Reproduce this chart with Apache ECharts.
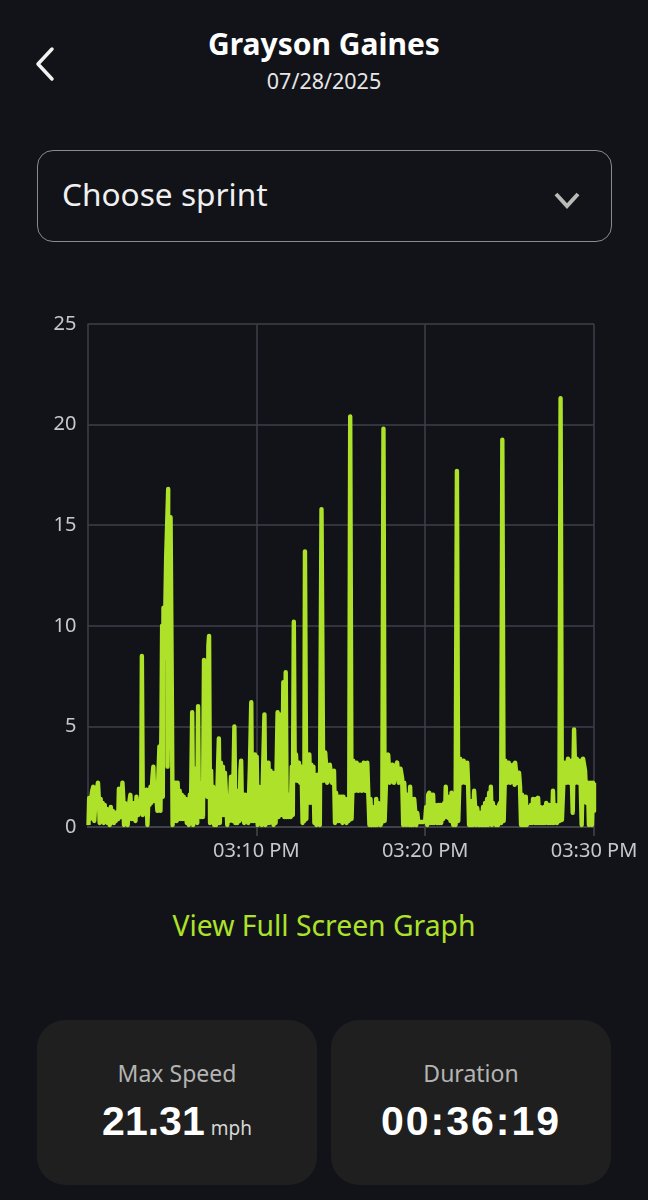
<!DOCTYPE html>
<html>
<head>
<meta charset="utf-8">
<title>Grayson Gaines</title>
<script src="https://cdn.jsdelivr.net/npm/echarts@6/dist/echarts.min.js"></script>
<style>
    html, body { margin: 0; padding: 0; background: #111318; }
    #page { position: relative; width: 648px; height: 1200px; overflow: hidden; font-family: "Noto Sans", sans-serif; color: #fff; }
    .abs { position: absolute; white-space: nowrap; }
    .center { left: 0; width: 648px; text-align: center; }
    #name { top: 24px; font-size: 30px; line-height: 40px; font-weight: 700; }
    #date { top: 66px; font-size: 21.5px; line-height: 30px; color: #e6e6e6; }
    #select { left: 37px; top: 150px; width: 573px; height: 90px; border: 1.5px solid #8a8b8d; border-radius: 16px; }
    #selectText { left: 62px; top: 172px; font-size: 31.6px; line-height: 44px; color: #f0f0f0; }
    #chart { position: absolute; left: 0; top: 300px; width: 648px; height: 580px; }
    #link { top: 906px; font-size: 28.3px; line-height: 38px; color: #aee22a; }
    .card { position: absolute; top: 1020px; width: 280px; height: 165px; background: #1f1f1f; border-radius: 28px; }
    .cardLabel { left: 0; width: 280px; text-align: center; top: 36px; font-size: 23px; line-height: 34px; color: #b4b4b4; }
    .cardValue { left: 0; width: 280px; text-align: center; top: 74px; font-family: "Liberation Sans", Arial, sans-serif; font-size: 41px; line-height: 54px; font-weight: 700; }
    .unit { font-family: "Noto Sans", sans-serif; font-size: 19px; font-weight: 400; color: #d6d6d6; margin-left: 6px; }
</style>
</head>
<body>
<div id="page">
    <svg class="abs" style="left:30px;top:42px" width="30" height="44"><path d="M22 7 L8 22 L22 37" fill="none" stroke="#f2f2f2" stroke-width="3.5" stroke-linecap="round" stroke-linejoin="round"/></svg>
    <div id="name" class="abs center">Grayson Gaines</div>
    <div id="date" class="abs center">07/28/2025</div>
    <div id="select" class="abs"></div>
    <div id="selectText" class="abs">Choose sprint</div>
    <svg class="abs" style="left:550px;top:186px" width="36" height="30"><path d="M6 8 L17 20 L28 8" fill="none" stroke="#b9bcb6" stroke-width="4"/></svg>
    <div id="chart"></div>
    <div id="link" class="abs center">View Full Screen Graph</div>
    <div class="card" style="left:37px">
        <div class="abs cardLabel">Max Speed</div>
        <div class="abs cardValue">21.31<span class="unit">mph</span></div>
    </div>
    <div class="card" style="left:331px">
        <div class="abs cardLabel">Duration</div>
        <div class="abs cardValue" style="letter-spacing:2px">00:36:19</div>
    </div>
</div>
<script>
// 坐标轴
var speedTicks = [0, 5, 10, 15, 20, 25];
var timeLabels = { 10: '03:10 PM', 20: '03:20 PM', 30: '03:30 PM' };

// 速度数据 [分钟, mph]
var trace00 = [[0.06,0.1],[0.1,1.45],[0.16,0.4],[0.22,1.4],[0.28,1.8],[0.34,2],[0.4,0.3],[0.46,1.2],[0.54,1.8],[0.62,2.2],[0.68,1.3],[0.72,0.2],[0.78,1.4],[0.84,0.4],[0.9,1.2],[0.96,0.2],[1.02,1.1],[1.08,0.3],[1.14,0.9],[1.2,0.2],[1.26,0.8],[1.32,0.1],[1.38,1],[1.44,0.3],[1.5,0.8],[1.56,0.2],[1.62,0.7],[1.68,0.3],[1.76,0.75],[1.82,0.4],[1.86,1.9],[1.92,1.9],[1.98,0.5],[2.02,1.4],[2.07,2.2],[2.12,1.4],[2.16,0.1],[2.22,1.2],[2.28,0.9],[2.34,0.3],[2.38,0.1],[2.44,1],[2.54,1.6],[2.6,0.4],[2.66,1.2],[2.72,0.4],[2.78,1.2],[2.84,0.3],[2.9,1.5],[2.96,1.5],[3.02,0.6],[3.08,0.9],[3.14,0.7],[3.18,0.9],[3.22,8.5],[3.28,0.6],[3.34,1.5],[3.4,0.8],[3.49,1.85],[3.55,0.1],[3.62,1.7],[3.68,1.1],[3.73,2],[3.78,1.2],[3.84,2.4],[3.9,3],[3.96,1.3],[4.02,2.2],[4.08,2.2],[4.14,0.8],[4.2,2.6],[4.26,4],[4.32,0.8],[4.38,5],[4.42,10],[4.46,1.5],[4.5,10.9]];
var trace05 = [[4.56,8.4],[4.66,13.4],[4.78,16.8],[4.74,3],[4.92,15.4],[5,6],[5.04,0.1],[5.1,2.2],[5.16,0.3],[5.22,2.2],[5.28,0.3],[5.34,2.2],[5.4,0.4],[5.46,1.8],[5.52,0.4],[5.58,1.6],[5.64,0.4],[5.7,1.5],[5.76,0.4],[5.82,1.4],[5.88,0.2],[5.94,1.3],[6,0.1],[6.06,1.6],[6.12,0.3],[6.2,5.7],[6.26,0.1],[6.32,2.9],[6.38,0.4],[6.44,2.9],[6.5,0.2],[6.55,6],[6.6,0.5],[6.66,2.2],[6.72,0.5],[6.78,2.2],[6.84,0.5],[6.9,8.3],[6.98,2],[7.04,8],[7.1,1.5],[7.16,9],[7.2,9.5],[7.26,0.2],[7.32,2.8],[7.38,0.4],[7.44,2],[7.5,0.1],[7.56,1.2],[7.62,0.1],[7.7,2],[7.78,4.4],[7.84,0.2],[7.9,3.2],[7.96,0.6],[8.02,3],[8.08,0.6],[8.14,2.7],[8.22,2.7],[8.28,0.1],[8.34,1.2],[8.4,0.3],[8.5,2.5],[8.6,0.3],[8.7,5],[8.76,0.2],[8.82,1.6],[8.88,0.2],[8.94,1.8],[9,0.3],[9.06,2.8],[9.1,3.3],[9.16,0.4],[9.22,1.6],[9.28,0.2],[9.34,1.6],[9.4,0.3],[9.46,1.5],[9.52,0.2],[9.62,3],[9.7,6.2],[9.75,0.3],[9.8,3.6],[9.86,0.3],[9.92,3.6],[9.98,0.3],[10.02,3.5],[10.08,0.1],[10.14,2],[10.2,0.5],[10.26,1.3],[10.32,0.1]];
var trace10 = [[10.48,5.6],[10.54,0.1],[10.6,3.2],[10.66,0.2],[10.72,3.2],[10.78,0.2],[10.84,2.8],[10.9,0.3],[10.96,2.7],[11.02,0.1],[11.08,1.3],[11.14,0.2],[11.26,5.7],[11.32,0.5],[11.38,4],[11.46,5.6],[11.52,0.6],[11.6,7.2],[11.66,0.5],[11.74,7.7],[11.8,0.5],[11.86,1.6],[11.92,0.5],[11.98,1.6],[12.04,0.5],[12.1,3],[12.16,0.6],[12.22,10.2],[12.28,2.3],[12.35,3.6],[12.42,2.3],[12.52,3.2],[12.6,2.2],[12.68,3],[12.74,0.2],[12.8,1.4],[12.84,0.3],[12.88,13.7],[12.96,0.4],[13.02,3.6],[13.08,1.2],[13.14,3.6],[13.2,1.2],[13.26,3.1],[13.32,1.2],[13.38,3],[13.44,0.2],[13.5,1.4],[13.56,0.1],[13.62,2.6],[13.7,2],[13.76,0.1],[13.86,15.8],[13.96,2.3],[14.08,3.7],[14.2,2.2],[14.35,3.1],[14.48,2.2],[14.6,2.8],[14.66,0.2],[14.72,1.7],[14.8,1.7],[14.86,0.3],[14.92,1.5],[14.98,0.3],[15.04,1.5],[15.1,0.2],[15.16,1.5],[15.22,0.3],[15.28,1.4],[15.34,0.2],[15.4,1.3],[15.46,0.3]];
var trace15 = [[15.5,0.4],[15.56,20.4],[15.64,0.4],[15.74,3.3],[15.84,1.8],[15.94,3.2],[16.04,1.8],[16.14,3.1],[16.24,1.8],[16.36,3.2],[16.46,1.8],[16.57,3.2],[16.63,1.7],[16.7,0.1],[16.76,1.4],[16.82,0.1],[16.88,0.8],[16.94,0.1],[17,1],[17.05,0.1],[17.1,1.4],[17.16,0.1],[17.22,1.2],[17.28,1.2],[17.36,0.1],[17.46,0.3],[17.53,19.8],[17.6,0.3],[17.72,3.2],[17.81,3.6],[17.9,2.2],[18.05,3.1],[18.15,2.2],[18.25,3],[18.34,3.2],[18.44,2.2],[18.54,2.9],[18.64,2.4],[18.7,0.1],[18.76,2.2],[18.82,2.2],[18.88,0.1],[18.94,1.6],[19,1.4],[19.06,0.1],[19.11,2],[19.17,0.1],[19.23,1.4],[19.29,0.1],[19.35,1.4],[19.41,1.4],[19.47,0.1],[19.53,0.7],[19.59,0.25],[19.88,0.25],[20,0.3]];
var trace20 = [[20.06,1],[20.12,0.1],[20.18,1.6],[20.24,1.7],[20.3,0.2],[20.36,1.6],[20.42,0.2],[20.47,1.6],[20.53,0.2],[20.59,1.1],[20.65,1.1],[20.71,0.2],[20.77,1.1],[20.83,0.2],[20.89,1.1],[20.95,0.2],[21.01,1.1],[21.07,0.4],[21.13,1.2],[21.18,0.5],[21.22,2],[21.28,0.5],[21.34,1],[21.38,0.45],[21.44,1.5],[21.5,0.3],[21.56,1.7],[21.6,1.7],[21.66,0.1],[21.74,1.4],[21.8,0.1],[21.88,17.7],[21.96,0.3],[22.07,3.4],[22.17,2.2],[22.28,3.3],[22.38,2.2],[22.49,3.2],[22.54,2.2],[22.6,0.1],[22.66,1.3],[22.72,0.1],[22.78,1.3],[22.84,0.1],[22.9,1.8],[22.96,1.8],[23.02,0.1],[23.08,0.95],[23.14,0.95],[23.2,0.1],[23.26,0.7],[23.31,0.7],[23.37,0.1],[23.43,1],[23.49,0.1],[23.55,1.2],[23.61,0.1],[23.67,1.4],[23.73,0.1],[23.79,1.7],[23.84,0.3],[23.89,2],[23.95,0.1],[24.01,1.2],[24.07,0.2],[24.13,1],[24.19,0.1],[24.26,0.85],[24.32,0.1],[24.38,1.1],[24.44,1.2],[24.5,0.2]];
var trace245 = [[24.57,19.25],[24.65,0.3],[24.75,3.3],[24.85,2.2],[24.95,3.2],[25.05,2.2],[25.2,3.1],[25.3,2.1],[25.33,3.2],[25.45,2.2],[25.56,2.7],[25.62,2],[25.68,0.1],[25.74,1.6],[25.8,0.1],[25.86,1.5],[25.92,0.1],[25.96,1.5],[26.02,0.1],[26.09,0.2],[26.15,1],[26.21,0.2],[26.27,1.1],[26.33,0.2],[26.39,1.4],[26.45,1.4],[26.51,0.2],[26.57,1.4],[26.63,0.2],[26.69,1.45],[26.75,0.2],[26.81,1],[26.87,0.2],[26.93,0.85],[26.99,0.2],[27.05,1],[27.11,0.2],[27.17,1.2],[27.22,1.2],[27.28,0.2],[27.34,1.1],[27.4,0.2],[27.46,1.1],[27.52,0.2],[27.57,1.8],[27.63,0.2],[27.69,1.1],[27.75,1.1],[27.81,0.2],[27.87,1.1],[27.95,0.3]];
var trace28 = [[28.02,21.31],[28.1,0.35],[28.2,2.5],[28.28,3.2],[28.38,2.2],[28.46,3.4],[28.56,2.2],[28.66,3.3],[28.74,0.7],[28.82,4.85],[28.9,2.2],[28.98,3.4],[29.08,2.2],[29.18,3.3],[29.27,0.1],[29.35,3.4],[29.47,2.8],[29.55,1.2],[29.64,2.2],[29.7,0.1],[29.8,2.2],[29.88,0.1],[29.94,2.2],[30,0.8],[30,2.2]];

var trace = trace00.concat(trace05, trace10, trace15, trace20, trace245, trace28);

var speedChart = echarts.init(document.getElementById('chart'));
var option = {
    animation: false,
    backgroundColor: 'transparent',
    grid: { left: 87.5, top: 24, width: 506.5, height: 503 },
    xAxis: {
        type: 'value',
        min: 0,
        max: 30,
        interval: 10,
        axisLine: { show: true, lineStyle: { color: '#44454e', width: 1.5 } },
        axisTick: { show: true, length: 9, lineStyle: { color: '#44454e', width: 1.5 } },
        splitLine: { show: true, lineStyle: { color: '#3e3f48', width: 1.5 } },
        axisLabel: {
            color: '#c6c8cd',
            fontSize: 20,
            fontFamily: 'Noto Sans',
            margin: 14,
            showMinLabel: false,
            formatter: function (value) {
                return timeLabels[value] || '';
            }
        }
    },
    yAxis: {
        type: 'value',
        min: speedTicks[0],
        max: speedTicks[speedTicks.length - 1],
        interval: 5,
        axisLine: { show: false },
        axisTick: { show: false },
        splitLine: { show: true, lineStyle: { color: '#3e3f48', width: 1.5 } },
        axisLabel: { color: '#c6c8cd', fontSize: 20, fontFamily: 'Noto Sans', margin: 11, verticalAlignMinLabel: 'middle', verticalAlignMaxLabel: 'middle' }
    },
    series: [{
        type: 'line',
        data: trace,
        showSymbol: false,
        smooth: false,
        lineStyle: { color: '#aee22a', width: 4.4, join: 'round' }
    }]
};
speedChart.setOption(option);
</script>
</body>
</html>
